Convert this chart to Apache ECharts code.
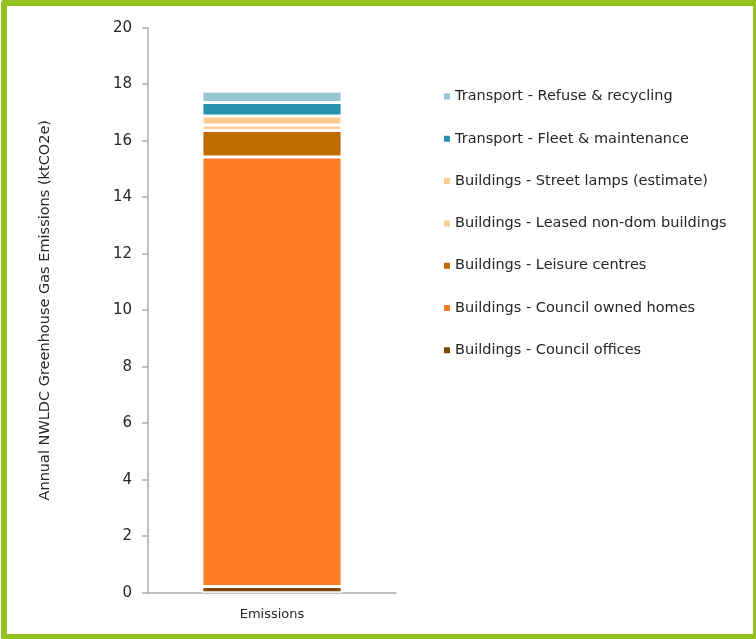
<!DOCTYPE html>
<html>
<head>
<meta charset="utf-8">
<script src="https://cdn.jsdelivr.net/npm/echarts@6/dist/echarts.min.js"></script>
<style>
  html, body { margin: 0; padding: 0; background: #fff; overflow: hidden; }
  #chart { position: absolute; left: 0; top: 0; width: 756px; height: 639px; }
  #frame {
    position: absolute; left: 1px; top: 0; width: 758px; height: 640px;
    box-sizing: border-box; border: 6px solid #95C11F; border-radius: 3px;
    pointer-events: none;
  }
</style>
</head>
<body>
<div id="chart"></div>
<div id="frame"></div>
<script>
// Annual NWLDC greenhouse gas emissions by source (ktCO2e), stacked bottom to top
const categories = ['Emissions'];
const councilOffices = [0.22];
const councilHomes = [15.2];
const leisureCentres = [0.94];
const leasedNonDom = [0.2];
const streetLamps = [0.31];
const fleetMaintenance = [0.48];
const refuseRecycling = [0.4];
const yTicks = [0, 2, 4, 6, 8, 10, 12, 14, 16, 18, 20];

const seriesDefs = [
  { name: 'Buildings - Council offices', data: councilOffices, color: '#7F4900' },
  { name: 'Buildings - Council owned homes', data: councilHomes, color: '#FF7B25' },
  { name: 'Buildings - Leisure centres', data: leisureCentres, color: '#BF6B00' },
  { name: 'Buildings - Leased non-dom buildings', data: leasedNonDom, color: '#FFCF98' },
  { name: 'Buildings - Street lamps (estimate)', data: streetLamps, color: '#FFCC90' },
  { name: 'Transport - Fleet & maintenance', data: fleetMaintenance, color: '#288FAF' },
  { name: 'Transport - Refuse & recycling', data: refuseRecycling, color: '#93C5D3' }
];

const font = 'DejaVu Sans';
const chart = echarts.init(document.getElementById('chart'), null, { renderer: 'canvas' });

chart.setOption({
  animation: false,
  backgroundColor: '#ffffff',
  textStyle: { fontFamily: font },
  grid: { left: 148, right: 360, top: 27.7, bottom: 46.3, containLabel: false },
  legend: {
    orient: 'vertical',
    left: 442,
    top: 89,
    padding: 0,
    itemWidth: 8,
    itemHeight: 8,
    itemGap: 27.3,
    icon: 'rect',
    textStyle: { fontFamily: font, fontSize: 14.5, color: '#262626', padding: [0, 0, 0, -1] },
    data: seriesDefs.slice().reverse().map(s => s.name)
  },
  xAxis: {
    type: 'category',
    data: categories,
    axisLine: { lineStyle: { color: '#ADADAD', width: 1.5 } },
    axisTick: { show: false },
    axisLabel: { fontFamily: font, fontSize: 13, color: '#262626', margin: 15 }
  },
  yAxis: {
    type: 'value',
    min: yTicks[0],
    max: yTicks[yTicks.length - 1],
    interval: 2,
    name: 'Annual NWLDC Greenhouse Gas Emissions (ktCO2e)',
    nameLocation: 'middle',
    nameGap: 95,
    nameTextStyle: { fontFamily: font, fontSize: 14.5, color: '#262626' },
    axisLine: { show: true, lineStyle: { color: '#ADADAD', width: 1.5 } },
    axisTick: { show: true, length: 6, lineStyle: { color: '#ADADAD', width: 1.5 } },
    splitLine: { show: false },
    axisLabel: { fontFamily: font, fontSize: 15, color: '#262626', margin: 16 }
  },
  series: seriesDefs.map(s => ({
    name: s.name,
    type: 'bar',
    stack: 'total',
    barWidth: '56.5%',
    data: s.data,
    itemStyle: { color: s.color, borderColor: '#ffffff', borderWidth: 1.5 }
  }))
});
</script>
</body>
</html>
